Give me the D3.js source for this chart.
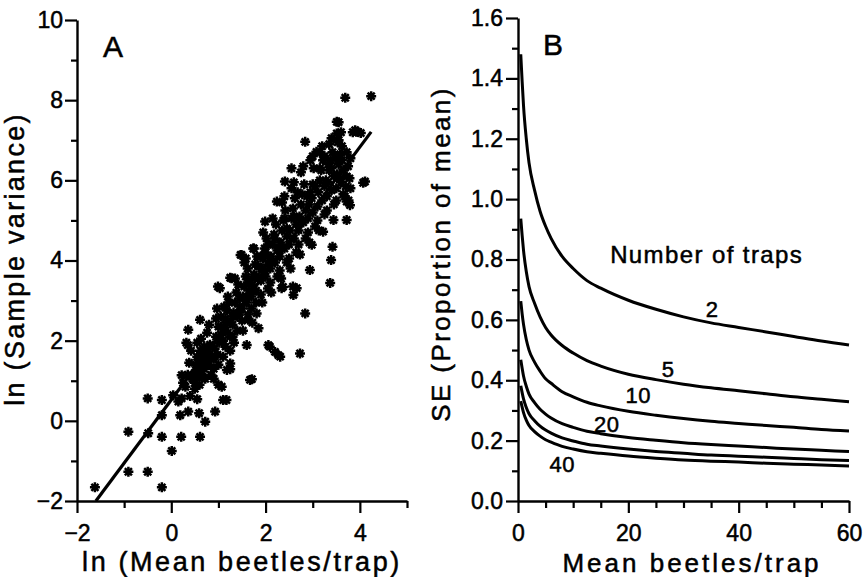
<!DOCTYPE html>
<html>
<head>
<meta charset="utf-8">
<script src="https://cdn.jsdelivr.net/npm/d3@7"></script>
<style>
body { margin: 0; background: #fff; }
text { font-family: "Liberation Sans", Arial, Helvetica, sans-serif; fill: #000; stroke: #000; stroke-width: 0.5px; }
</style>
</head>
<body>
<script>
// panel A: ln(mean) vs ln(variance), one star per sample
var scatterPoints = [
  [3.69,8.06],[4.24,8.10],[2.84,6.96],[2.41,5.97],[4.07,5.94],[1.47,4.14],[1.25,3.57],[0.99,3.35],
  [2.94,3.76],[3.39,4.01],[3.42,4.34],[3.37,3.44],[3.72,5.01],[3.79,5.38],[3.76,5.50],[2.98,4.39],
  [2.58,3.35],[2.37,3.34],[3.96,7.21],[4.02,7.18],[3.51,7.46],[3.51,7.17],[1.03,3.31],[2.84,2.68],
  [1.60,1.89],[2.06,1.89],[2.20,1.72],[2.31,1.60],[2.73,1.68],[1.71,1.04],[0.36,2.27],[0.35,1.89],
  [-0.50,0.56],[-0.20,0.52],[-0.91,-0.27],[-0.49,-0.31],[-0.20,-0.40],[0.21,-0.40],[0.61,-0.40],
  [0.01,-0.75],[-0.91,-1.27],[-0.50,-1.27],[-0.20,-1.66],[-1.62,-1.66],[0.04,0.64],[0.15,0.48],
  [-0.20,0.14],[0.19,0.14],[0.36,0.23],[0.59,0.19],[0.72,-0.02],[0.93,0.23],[1.10,0.52],[1.17,0.52],
  [1.07,0.85],[1.00,0.90],[0.55,0.54],[0.22,0.56],[0.50,0.80],[0.65,1.10],[0.90,1.05],[1.25,1.43],
  [1.25,1.29],[0.43,1.10],[0.22,1.14],[1.85,2.31],[1.63,2.52],[1.81,2.68],[2.59,3.14],[2.34,3.31],
  [0.61,2.52],[1.28,3.56],[1.49,4.14],[1.74,4.30],[1.99,4.97],[2.24,5.47],[2.55,6.30],[3.08,6.71],
  [3.93,7.21],[4.11,5.97],[3.72,5.47],[3.44,5.01],[3.22,4.72],[2.66,3.31],[2.09,1.85],[2.27,1.64],
  [1.67,1.02],[1.25,2.10],[1.18,1.27],[0.25,0.95],[0.30,0.85],[0.35,1.15],[0.38,1.45],[0.42,1.75],
  [0.32,1.95],[0.45,1.05],[0.40,0.62],[0.50,1.20],[0.52,1.40],[0.55,1.60],[0.58,1.35],[0.60,1.50],
  [0.62,1.75],[0.55,1.95],[0.65,1.25],[0.50,0.95],[0.63,2.05],[0.57,1.10],[0.60,0.90],[0.70,1.30],
  [0.72,1.55],[0.75,1.45],[0.78,1.70],[0.80,1.40],[0.82,1.90],[0.70,1.85],[0.85,1.60],[0.76,2.20],
  [0.72,1.05],[0.84,1.15],[0.80,2.40],[0.90,1.55],[0.92,1.80],[0.95,2.10],[0.98,1.65],[1.00,2.35],
  [1.02,1.95],[0.95,2.55],[1.05,2.60],[0.90,1.30],[1.00,1.40],[1.05,2.15],[0.97,2.80],[1.10,2.00],
  [1.12,2.30],[1.15,2.55],[1.18,2.75],[1.20,2.20],[1.22,2.95],[1.10,1.60],[1.15,1.85],[1.25,2.45],
  [1.20,3.10],[1.12,2.85],[1.25,1.75],[1.30,2.40],[1.32,2.70],[1.35,2.95],[1.38,3.20],[1.40,2.60],
  [1.42,3.40],[1.30,2.10],[1.45,2.85],[1.35,3.55],[1.45,3.05],[1.40,2.25],[1.33,1.95],[1.50,2.80],
  [1.52,3.10],[1.55,3.35],[1.58,3.60],[1.60,2.95],[1.62,3.80],[1.50,2.50],[1.65,3.25],[1.55,3.95],
  [1.63,2.65],[1.58,4.05],[1.52,2.25],[1.70,3.10],[1.72,3.40],[1.75,3.65],[1.78,3.90],[1.80,3.25],
  [1.82,4.10],[1.70,2.80],[1.85,3.55],[1.75,4.30],[1.80,2.95],[1.85,3.85],[1.72,2.45],[1.90,3.50],
  [1.92,3.80],[1.95,4.05],[1.98,4.30],[2.00,3.60],[2.02,4.55],[1.90,3.15],[2.05,3.90],[1.95,4.70],
  [2.05,3.30],[2.00,4.20],[1.93,2.95],[2.10,3.80],[2.12,4.10],[2.15,4.40],[2.18,4.65],[2.20,3.95],
  [2.22,4.90],[2.10,3.45],[2.25,4.25],[2.15,5.05],[2.25,3.60],[2.20,4.55],[2.12,3.20],[2.30,4.10],
  [2.32,4.45],[2.35,4.75],[2.38,5.00],[2.40,4.30],[2.42,5.25],[2.30,3.75],[2.45,4.60],[2.35,5.45],
  [2.45,3.95],[2.40,5.60],[2.33,3.55],[2.50,4.40],[2.52,4.75],[2.55,5.05],[2.58,5.30],[2.60,4.55],
  [2.62,5.55],[2.50,4.05],[2.65,4.90],[2.55,5.80],[2.65,4.20],[2.60,5.95],[2.53,3.80],[2.70,4.75],
  [2.72,5.10],[2.75,5.40],[2.78,5.65],[2.80,4.95],[2.82,5.90],[2.70,4.40],[2.85,5.25],[2.75,6.20],
  [2.85,4.55],[2.80,6.35],[2.73,4.15],[2.90,5.05],[2.92,5.40],[2.95,5.70],[2.98,5.55],[3.00,5.20],
  [3.02,6.30],[2.90,4.70],[3.05,5.85],[2.95,6.50],[3.05,4.85],[3.00,6.60],[2.93,4.45],[3.10,5.35],
  [3.12,5.70],[3.15,6.00],[3.18,6.25],[3.20,5.50],[3.22,6.50],[3.10,5.00],[3.25,5.85],[3.15,6.70],
  [3.25,5.15],[3.20,6.85],[3.13,4.75],[3.30,5.60],[3.32,5.95],[3.35,6.25],[3.38,6.50],[3.40,5.75],
  [3.42,6.70],[3.30,5.25],[3.45,6.10],[3.35,6.90],[3.45,5.40],[3.40,7.05],[3.33,6.40],[3.50,5.80],
  [3.52,6.15],[3.55,6.40],[3.58,6.65],[3.60,5.95],[3.62,6.85],[3.50,5.50],[3.65,6.25],[3.55,7.00],
  [3.65,5.65],[3.60,7.20],[3.53,6.95],[3.70,5.85],[3.72,6.10],[3.75,6.35],[3.78,6.05],[3.80,6.55],
  [3.72,6.70],[3.68,5.60],[3.80,5.80],[3.85,7.20],[3.90,7.25],[3.55,7.45],
  [0.62,1.35],[0.68,1.55],[0.66,1.45],[0.74,1.62],[0.58,1.52],[0.64,1.62],[0.70,1.40],[0.78,1.50],
  [1.05,2.35],[1.15,2.40],[1.30,2.60],[1.45,2.70],[1.60,3.10],[1.68,3.50],[1.80,3.60],[1.95,3.70],
  [2.10,4.00],[2.28,4.30],[2.45,4.80],[2.60,5.10],[2.75,5.00],[2.88,5.60],[3.00,5.90],[3.15,6.30],
  [3.28,6.00],[3.40,6.30],[3.48,6.55],[3.62,6.50],[3.58,6.05],[3.25,6.60],[2.68,5.70],[2.40,5.05],
  [2.05,4.40],[1.90,4.10],[1.62,3.45]
];
var fitLine = [[-1.6, -2.0], [4.24, 7.21]];

// panel B: SE as proportion of mean, one curve per number of traps
var meanBeetles = [0.5, 0.75, 1, 1.5, 2, 3, 4, 5, 6, 8, 10, 12.5, 15, 20, 25, 30, 35, 40, 45, 50, 55, 60];
var se2  = [1.48, 1.39, 1.31, 1.20, 1.12, 1.03, 0.96, 0.91, 0.87, 0.81, 0.77, 0.73, 0.705, 0.665, 0.635, 0.61, 0.59, 0.575, 0.56, 0.545, 0.53, 0.517];
var se5  = [0.935, 0.88, 0.83, 0.76, 0.71, 0.655, 0.61, 0.575, 0.55, 0.515, 0.49, 0.465, 0.447, 0.42, 0.402, 0.387, 0.375, 0.365, 0.355, 0.345, 0.337, 0.329];
var se10 = [0.662, 0.62, 0.585, 0.535, 0.50, 0.46, 0.43, 0.405, 0.39, 0.362, 0.345, 0.327, 0.315, 0.297, 0.284, 0.273, 0.264, 0.257, 0.25, 0.244, 0.237, 0.232];
var se20 = [0.468, 0.44, 0.414, 0.38, 0.354, 0.326, 0.304, 0.288, 0.275, 0.256, 0.244, 0.231, 0.223, 0.21, 0.201, 0.193, 0.187, 0.182, 0.177, 0.172, 0.168, 0.164];
var se30 = [0.382, 0.359, 0.338, 0.31, 0.289, 0.266, 0.248, 0.235, 0.225, 0.209, 0.199, 0.188, 0.182, 0.172, 0.164, 0.158, 0.152, 0.148, 0.145, 0.141, 0.137, 0.134];
var se40 = [0.331, 0.311, 0.293, 0.268, 0.25, 0.23, 0.215, 0.203, 0.195, 0.181, 0.172, 0.163, 0.158, 0.149, 0.142, 0.136, 0.132, 0.129, 0.125, 0.122, 0.119, 0.116];
var curveLabels = [
  { text: "2",  m: 35.2, v: 0.609 },
  { text: "5",  m: 27.2, v: 0.411 },
  { text: "10", m: 21.8, v: 0.325 },
  { text: "20", m: 16.1, v: 0.228 },
  { text: "40", m: 8.0,  v: 0.096 }
];

var ticksAx = [-2, 0, 2, 4], minorAx = [-1, 1, 3, 5];
var ticksAy = [-2, 0, 2, 4, 6, 8, 10], minorAy = [-1, 1, 3, 5, 7, 9];
var ticksBx = [0, 20, 40, 60], minorBx = [5, 10, 15, 25, 30, 35, 45, 50, 55];
var ticksBy = [0, 0.2, 0.4, 0.6, 0.8, 1.0, 1.2, 1.4, 1.6], minorBy = [0.1, 0.3, 0.5, 0.7, 0.9, 1.1, 1.3, 1.5];

var canvas = d3.select("body")
               .append("svg")
               .attr("width", 865)
               .attr("height", 577)
               .attr("style", "background-color: #fff");

function styleAxis(g, fontSize) {
    g.attr("font-family", null).attr("font-size", fontSize);
    g.select(".domain").attr("stroke-width", 2.4);
    g.selectAll(".tick line").attr("stroke-width", 2.2);
}

function addMinor(axis, vals, size) {
    return function(g) {
        g.call(axis.tickValues(vals).tickSize(size).tickSizeOuter(0).tickFormat(""));
        g.select(".domain").remove();
        g.selectAll(".tick line").attr("stroke-width", 2.2);
    };
}

// ---------- panel A ----------
var xA = d3.scaleLinear().domain([-2, 5]).range([77, 407]);
var yA = d3.scaleLinear().domain([-2, 10]).range([501, 20]);

canvas.append("g").attr("transform", "translate(0,501)")
      .call(addMinor(d3.axisBottom(xA), minorAx, 7));
canvas.append("g").attr("transform", "translate(77,0)")
      .call(addMinor(d3.axisLeft(yA), minorAy, 6));

canvas.append("g").attr("transform", "translate(0,501)")
      .call(d3.axisBottom(xA).tickValues(ticksAx).tickSize(12).tickSizeOuter(0)
              .tickPadding(12).tickFormat(d3.format("d")))
      .call(styleAxis, 23);
canvas.append("g").attr("transform", "translate(77,0)")
      .call(d3.axisLeft(yA).tickValues(ticksAy).tickSize(12).tickSizeOuter(0)
              .tickPadding(2).tickFormat(d3.format("d")))
      .call(styleAxis, 23);

var star = (function() {
    var p = d3.path(), r = 5;
    [0, 45, 90, 135].forEach(function(a) {
        var t = a * Math.PI / 180;
        p.moveTo(-r * Math.cos(t), -r * Math.sin(t));
        p.lineTo(r * Math.cos(t), r * Math.sin(t));
    });
    return p.toString();
})();

canvas.append("g").selectAll("path")
      .data(scatterPoints)
      .enter()
            .append("path")
            .attr("d", star)
            .attr("transform", function(d) {
                return "translate(" + xA(d[0]) + "," + yA(d[1]) + ")";
            })
            .attr("stroke", "#000")
            .attr("stroke-width", 2.5)
            .attr("fill", "none");

canvas.append("path")
      .datum(fitLine)
      .attr("d", d3.line().x(function(d) { return xA(d[0]); }).y(function(d) { return yA(d[1]); }))
      .attr("stroke", "#000")
      .attr("stroke-width", 3.2)
      .attr("fill", "none");

canvas.append("text").attr("x", 103).attr("y", 57).attr("font-size", 30).text("A");
canvas.append("text")
      .attr("x", xA(1.5)).attr("y", 571)
      .attr("text-anchor", "middle").attr("font-size", 27).attr("letter-spacing", 2.6)
      .text("ln (Mean beetles/trap)");
canvas.append("text")
      .attr("transform", "translate(24,259) rotate(-90)")
      .attr("text-anchor", "middle").attr("font-size", 27).attr("letter-spacing", 2.3)
      .text("ln (Sample variance)");

// ---------- panel B ----------
var xB = d3.scaleLinear().domain([0, 60]).range([518, 849]);
var yB = d3.scaleLinear().domain([0, 1.6]).range([501, 18]);

canvas.append("g").attr("transform", "translate(0,501)")
      .call(addMinor(d3.axisBottom(xB), minorBx, 7));
canvas.append("g").attr("transform", "translate(518,0)")
      .call(addMinor(d3.axisLeft(yB), minorBy, 6));

canvas.append("g").attr("transform", "translate(0,501)")
      .call(d3.axisBottom(xB).tickValues(ticksBx).tickSize(12).tickSizeOuter(0)
              .tickPadding(12).tickFormat(d3.format("d")))
      .call(styleAxis, 23);
canvas.append("g").attr("transform", "translate(518,0)")
      .call(d3.axisLeft(yB).tickValues(ticksBy).tickSize(12).tickSizeOuter(0)
              .tickPadding(3).tickFormat(d3.format(".1f")))
      .call(styleAxis, 23);

var seriesList = [se2, se5, se10, se20, se30, se40];
var seLine = d3.line()
               .x(function(d, i) { return xB(meanBeetles[i]); })
               .y(function(d) { return yB(d); })
               .curve(d3.curveMonotoneX);

canvas.append("g").selectAll("path")
      .data(seriesList)
      .enter()
            .append("path")
            .attr("d", seLine)
            .attr("stroke", "#000")
            .attr("stroke-width", 3)
            .attr("fill", "none");

canvas.append("g").selectAll("text")
      .data(curveLabels)
      .enter()
            .append("text")
            .attr("x", function(d) { return xB(d.m); })
            .attr("y", function(d) { return yB(d.v); })
            .attr("text-anchor", "middle")
            .attr("font-size", 22)
            .attr("letter-spacing", 0.5)
            .text(function(d) { return d.text; });

canvas.append("text").attr("x", xB(16.7)).attr("y", yB(0.79))
      .attr("font-size", 24).attr("letter-spacing", 1.4).text("Number of traps");
canvas.append("text").attr("x", 543).attr("y", 55).attr("font-size", 30).text("B");
canvas.append("text")
      .attr("x", 692).attr("y", 572)
      .attr("text-anchor", "middle").attr("font-size", 26).attr("letter-spacing", 3)
      .text("Mean beetles/trap");
canvas.append("text")
      .attr("transform", "translate(450,254) rotate(-90)")
      .attr("text-anchor", "middle").attr("font-size", 26).attr("letter-spacing", 2.4)
      .text("SE (Proportion of mean)");
</script>
</body>
</html>
